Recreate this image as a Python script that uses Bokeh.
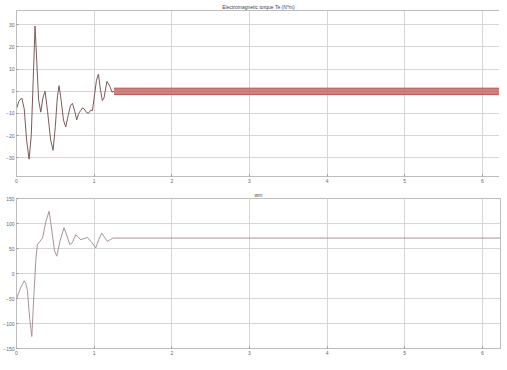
from bokeh.plotting import figure
from bokeh.layouts import column
from bokeh.models import Range1d, FixedTicker
from bokeh.embed import file_html
from bokeh.resources import INLINE

# ---- data ----
x_ticks = [0, 1, 2, 3, 4, 5, 6]
te_ticks = [-30, -20, -10, 0, 10, 20, 30]
wm_ticks = [-150, -100, -50, 0, 50, 100, 150]

te_t = [0, 0.03, 0.068, 0.10, 0.13, 0.162, 0.19, 0.215, 0.239, 0.26,
        0.285, 0.313, 0.34, 0.368, 0.40, 0.44, 0.471, 0.50, 0.525, 0.548,
        0.575, 0.605, 0.634, 0.665, 0.695, 0.72, 0.75, 0.776, 0.80, 0.827,
        0.85, 0.87, 0.90, 0.927, 0.955, 0.978, 1.0, 1.03, 1.055, 1.08,
        1.105, 1.127, 1.165, 1.205, 1.23, 1.256]
te_v = [-7.9, -4.5, -3.0, -8.0, -22.0, -30.6, -20.0, 5.0, 29.4, 14.0,
        -4.0, -9.4, -3.0, 0.0, -9.0, -22.0, -26.6, -16.0, -3.0, 2.5,
        -4.0, -13.0, -16.1, -11.0, -6.5, -5.4, -9.0, -12.9, -10.0, -8.7,
        -7.5, -7.9, -9.5, -9.9, -8.5, -8.7, -3.0, 5.0, 7.7, 1.0,
        -4.2, -3.0, 4.5, 2.0, -0.4, 0.0]

ripple_t = [1.256, 2.0, 3.0, 4.0, 5.0, 6.233]
ripple_hi = [1.4, 1.4, 1.4, 1.4, 1.4, 1.4]
ripple_lo = [-1.5, -1.5, -1.5, -1.5, -1.5, -1.5]

wm_t = [0, 0.05, 0.098, 0.12, 0.141, 0.17, 0.197, 0.225, 0.25, 0.270,
        0.30, 0.335, 0.38, 0.42, 0.46, 0.49, 0.519, 0.56, 0.612, 0.65,
        0.686, 0.72, 0.763, 0.80, 0.827, 0.87, 0.914, 0.97, 1.02, 1.06,
        1.098, 1.135, 1.17, 1.21, 1.243, 6.233]
wm_v = [-50.6, -30.0, -14.6, -20.0, -34.0, -90.0, -126.0, -40.0, 30.0, 57.7,
        64.0, 70.9, 105.0, 124.6, 80.0, 45.0, 34.6, 65.0, 91.7, 75.0,
        57.7, 62.0, 77.4, 72.0, 67.5, 70.0, 72.0, 62.0, 51.2, 68.0,
        80.7, 72.0, 64.2, 68.0, 70.9, 70.9]

FONT = "Liberation Sans"
GRID = "#d6d6d6"


def style(p, yticks):
    p.xaxis.ticker = FixedTicker(ticks=x_ticks)
    p.yaxis.ticker = FixedTicker(ticks=yticks)
    for ax in (p.xaxis, p.yaxis):
        ax.major_label_text_font_size = "5px"
        ax.major_label_text_font = FONT
        ax.major_label_text_color = "#666666"
        ax.axis_line_color = "#bdbdbd"
        ax.major_tick_out = 0
        ax.major_tick_in = 2
        ax.major_tick_line_color = "#999999"
        ax.minor_tick_line_color = None
        ax.major_label_standoff = 2
    p.xgrid.grid_line_color = GRID
    p.ygrid.grid_line_color = GRID
    p.outline_line_color = "#bdbdbd"
    p.title.text_font_size = "5px"
    p.title.text_font = FONT
    p.title.text_font_style = "normal"
    p.title.text_color = "#444444"
    p.title.align = "center"
    p.title.standoff = 1


p1 = figure(frame_width=484, frame_height=166, output_backend="svg",
            toolbar_location=None, title="Electromagnetic torque Te (N*m)",
            x_range=Range1d(0, 6.233), y_range=Range1d(-38.4, 36.4),
            min_border_left=13, min_border_right=2, min_border_top=10,
            min_border_bottom=10, background_fill_color="white",
            border_fill_color="white")
style(p1, te_ticks)
p1.varea(x=ripple_t, y1=ripple_lo, y2=ripple_hi, fill_color="#c46262", fill_alpha=0.8)
p1.line(ripple_t, ripple_hi, line_color="#b05555", line_width=1)
p1.line(ripple_t, ripple_lo, line_color="#b05555", line_width=1)
p1.line(te_t, te_v, line_color="#7d5a5a", line_width=1)

p2 = figure(frame_width=484, frame_height=150, output_backend="svg",
            toolbar_location=None, title="wm",
            x_range=Range1d(0, 6.233), y_range=Range1d(-150, 150),
            min_border_left=13, min_border_right=2, min_border_top=12,
            min_border_bottom=6, background_fill_color="white",
            border_fill_color="white")
style(p2, wm_ticks)
p2.line(wm_t, wm_v, line_color="#a89494", line_width=1)

layout = column(p1, p2, spacing=0)
open("out.html", "w").write(file_html(layout, INLINE))
